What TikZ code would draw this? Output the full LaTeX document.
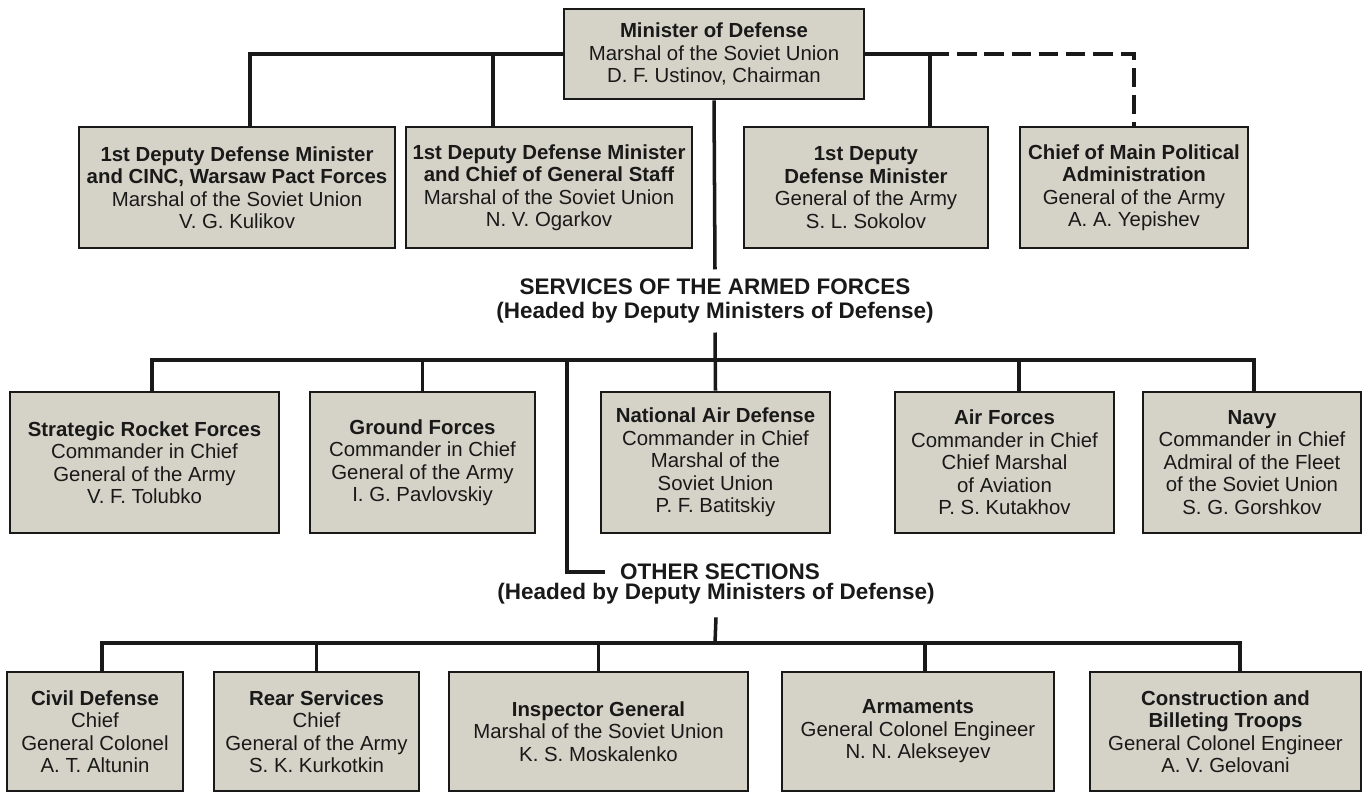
\documentclass[tikz,border=0pt]{standalone}
\usepackage{fontspec}
\setmainfont{Liberation Sans}
\usepackage{xcolor}
\usepackage{tikz}

\definecolor{boxgray}{RGB}{213,211,199}
\definecolor{ink}{RGB}{25,25,25}

\begin{document}
\begin{tikzpicture}[x=0.02cm,y=-0.02cm,
    every node/.style={font=\fontsize{11.6}{12.8}\selectfont,text=ink},
    post/.style={draw=ink,fill=boxgray,line width=1.6pt,align=center,inner sep=0pt},
    head/.style={font=\bfseries\fontsize{12.8}{14.2}\selectfont,align=center},
    link/.style={draw=ink,line width=2pt}]
        \useasboundingbox (0,0) rectangle (1363,794);
        \node[post,minimum width=6cm,minimum height=1.8cm] (m) at (714,54) {\textbf{Minister of Defense}\\Marshal of the Soviet Union\\D. F. Ustinov, Chairman};
        \node[post,minimum width=6.32cm,minimum height=2.42cm] (d1) at (237,187.5) {\textbf{1st Deputy Defense Minister}\\\textbf{and CINC, Warsaw Pact Forces}\\Marshal of the Soviet Union\\V. G. Kulikov};
        \node[post,minimum width=5.72cm,minimum height=2.42cm] (d2) at (549,187.5) {\textbf{1st Deputy Defense Minister}\\\textbf{and Chief of General Staff}\\Marshal of the Soviet Union\\N. V. Ogarkov};
        \node[post,minimum width=4.88cm,minimum height=2.42cm] (d3) at (866,187.5) {\textbf{1st Deputy}\\\textbf{Defense Minister}\\General of the Army\\S. L. Sokolov};
        \node[post,minimum width=4.56cm,minimum height=2.42cm] (pol) at (1134,187.5) {\textbf{Chief of Main Political}\\\textbf{Administration}\\General of the Army\\A. A. Yepishev};
        \draw[link] (m.west) -| ([xshift=0.26cm]d1.north);
        \draw[link] ([xshift=-1.12cm]d2.north) |- (m.west);
        \coordinate (split) at ([xshift=1.28cm]d3.north |- m.east);
        \draw[link] (m.east) -- (split) -- ([xshift=1.28cm]d3.north);
        \draw[link,dash pattern=on 11pt off 4.5pt] (split) -| (pol.north);

        \node[head,inner sep=0.17cm] (svc) at (715,301) {SERVICES OF THE ARMED FORCES\\(Headed by Deputy Ministers of Defense)};
        \draw[link] (m.south) -- (svc.north);
        \node[post,minimum width=5.38cm,minimum height=2.82cm] (s1) at (144.5,462.5) {\textbf{Strategic Rocket Forces}\\Commander in Chief\\General of the Army\\V. F. Tolubko};
        \node[post,minimum width=4.5cm,minimum height=2.82cm] (s2) at (422.5,462.5) {\textbf{Ground Forces}\\Commander in Chief\\General of the Army\\I. G. Pavlovskiy};
        \node[post,minimum width=4.58cm,minimum height=2.82cm] (s3) at (715.5,462.5) {\textbf{National Air Defense}\\Commander in Chief\\Marshal of the\\Soviet Union\\P. F. Batitskiy};
        \node[post,minimum width=4.38cm,minimum height=2.82cm] (s4) at (1004.5,462.5) {\textbf{Air Forces}\\Commander in Chief\\Chief Marshal\\of Aviation\\P. S. Kutakhov};
        \node[post,minimum width=4.36cm,minimum height=2.82cm] (s5) at (1252,462.5) {\textbf{Navy}\\Commander in Chief\\Admiral of the Fleet\\of the Soviet Union\\S. G. Gorshkov};
        \coordinate (sbar) at (715,360);
        \draw[link] (svc.south) -- (s3.north);
        \draw[link] ([xshift=0.15cm]s1.north) |- (sbar) -| ([xshift=0.04cm]s5.north);
        \draw[link] (s2.north) |- (sbar);
        \draw[link] ([xshift=0.29cm]s4.north) |- (sbar);

        \coordinate (tap) at (567,360);
        \node[head,inner xsep=0.3cm,inner ysep=0pt] (ot) at (720,572) {OTHER SECTIONS};
        \node[head,inner sep=0.25cm] (os) at (716,594) {(Headed by Deputy Ministers of Defense)};
        \draw[link] (tap) |- (ot.west);
        \node[post,minimum width=3.52cm,minimum height=2.38cm] (o1) at (95,731.5) {\textbf{Civil Defense}\\Chief\\General Colonel\\A. T. Altunin};
        \node[post,minimum width=4.1cm,minimum height=2.38cm] (o2) at (316.5,731.5) {\textbf{Rear Services}\\Chief\\General of the Army\\S. K. Kurkotkin};
        \node[post,minimum width=5.98cm,minimum height=2.38cm] (o3) at (598.5,731.5) {\textbf{Inspector General}\\Marshal of the Soviet Union\\K. S. Moskalenko};
        \node[post,minimum width=5.44cm,minimum height=2.38cm] (o4) at (918,731.5) {\textbf{Armaments}\\General Colonel Engineer\\N. N. Alekseyev};
        \node[post,minimum width=5.42cm,minimum height=2.38cm] (o5) at (1225.5,731.5) {\textbf{Construction and}\\\textbf{Billeting Troops}\\General Colonel Engineer\\A. V. Gelovani};
        \coordinate (obar) at (715,643);
        \draw[link] (os.south) -- (obar);
        \draw[link] ([xshift=0.14cm]o1.north) |- (obar) -| ([xshift=0.29cm]o5.north);
        \draw[link] (o2.north) |- (obar);
        \draw[link] (o3.north) |- (obar);
        \draw[link] ([xshift=0.14cm]o4.north) |- (obar);
      \end{tikzpicture}
\end{document}
